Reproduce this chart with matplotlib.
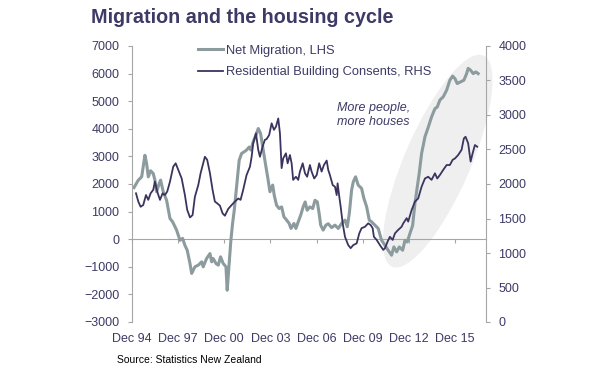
import matplotlib
matplotlib.use('Agg')
import matplotlib.pyplot as plt
from matplotlib.patches import Ellipse
from matplotlib.transforms import ScaledTranslation

plt.rcParams['font.family'] = ['Liberation Sans', 'DejaVu Sans']

# Net migration (LHS), monthly
mig_year = [1995.05, 1995.33, 1995.55, 1995.76, 1995.87, 1995.98, 1996.13, 1996.30, 1996.41, 1996.52,
            1996.69, 1996.78, 1996.95, 1997.17, 1997.39, 1997.56, 1997.82, 1998.04, 1998.21, 1998.36,
            1998.51, 1998.69, 1998.80, 1999.01, 1999.23, 1999.45, 1999.55, 1999.77, 1999.99, 2000.10,
            2000.20, 2000.38, 2000.53, 2000.68, 2000.85, 2001.03, 2001.11, 2001.24, 2001.35, 2001.46,
            2001.57, 2001.68, 2001.79, 2001.89, 2002.05, 2002.20, 2002.37, 2002.54, 2002.65, 2002.80,
            2002.98, 2003.13, 2003.28, 2003.45, 2003.63, 2003.74, 2003.89, 2004.07, 2004.17, 2004.32,
            2004.49, 2004.65, 2004.80, 2004.98, 2005.14, 2005.26, 2005.45, 2005.58, 2005.73, 2005.89,
            2006.05, 2006.18, 2006.31, 2006.49, 2006.67, 2006.82, 2006.97, 2007.09, 2007.19, 2007.35,
            2007.53, 2007.68, 2007.90, 2008.12, 2008.33, 2008.55, 2008.77, 2008.92, 2009.05, 2009.20,
            2009.31, 2009.46, 2009.63, 2009.85, 2010.00, 2010.18, 2010.35, 2010.50, 2010.72, 2010.93,
            2011.15, 2011.37, 2011.58, 2011.80, 2011.95, 2012.13, 2012.30, 2012.52, 2012.67, 2012.82,
            2012.99, 2013.17, 2013.32, 2013.47, 2013.60, 2013.75, 2013.97, 2014.18, 2014.40, 2014.62,
            2014.77, 2014.94, 2015.16, 2015.38, 2015.59, 2015.77, 2015.92, 2016.07, 2016.29, 2016.50,
            2016.68, 2016.78, 2016.94, 2017.11, 2017.28, 2017.43]
mig_value = [1870, 2140, 2260, 3040, 2740, 2260, 2480, 2380, 2140, 1720,
             2020, 2140, 1720, 1410, 750, 630, 330, -40, 30, -220,
             -400, -880, -1240, -1000, -940, -820, -1000, -700, -520, -820,
             -700, -880, -940, -640, -880, -1000, -1850, -880, -40, 570,
             1050, 1660, 2260, 2860, 3110, 3160, 3230, 3340, 3230, 3530,
             3770, 4010, 3830, 3230, 2620, 2260, 1720, 1960, 1590, 1230,
             1110, 1170, 810, 690, 570, 390, 570, 390, 630, 870,
             1170, 1350, 1050, 1170, 1110, 1410, 1350, 930, 510, 330,
             510, 560, 420, 510, 390, 570, 690, 450, 930, 1780,
             2080, 2260, 1960, 1840, 1480, 1170, 690, 630, 510, 390,
             -40, -220, -400, -580, -280, -460, -280, -400, -40, -100,
             200, 500, 1300, 1900, 2400, 3100, 3710, 4050, 4430, 4730,
             4790, 5040, 5160, 5400, 5760, 5910, 5820, 5640, 5700, 5760,
             6000, 6190, 6120, 6000, 6060, 6000]

# Residential building consents (RHS)
bc_year = [1995.18, 1995.33, 1995.48, 1995.65, 1995.83, 1995.98, 1996.13, 1996.30, 1996.41, 1996.56,
           1996.74, 1996.91, 1997.06, 1997.21, 1997.39, 1997.60, 1997.76, 1997.93, 1998.15, 1998.36,
           1998.51, 1998.69, 1998.86, 1999.01, 1999.23, 1999.38, 1999.55, 1999.66, 1999.81, 1999.99,
           2000.16, 2000.31, 2000.46, 2000.64, 2000.81, 2000.96, 2001.18, 2001.40, 2001.61, 2001.83,
           2001.98, 2002.15, 2002.37, 2002.59, 2002.70, 2002.80, 2002.98, 2003.13, 2003.24, 2003.41,
           2003.56, 2003.67, 2003.84, 2004.00, 2004.15, 2004.28, 2004.43, 2004.54, 2004.65, 2004.75,
           2004.93, 2005.04, 2005.19, 2005.30, 2005.40, 2005.58, 2005.73, 2005.84, 2006.02, 2006.17,
           2006.31, 2006.49, 2006.60, 2006.77, 2006.93, 2007.09, 2007.25, 2007.40, 2007.58, 2007.68,
           2007.79, 2007.97, 2008.12, 2008.23, 2008.29, 2008.40, 2008.49, 2008.62, 2008.77, 2008.98,
           2009.14, 2009.31, 2009.53, 2009.70, 2009.85, 2010.07, 2010.28, 2010.44, 2010.57, 2010.65,
           2010.83, 2011.04, 2011.26, 2011.37, 2011.54, 2011.69, 2011.87, 2012.02, 2012.23, 2012.45,
           2012.56, 2012.78, 2012.88, 2013.10, 2013.32, 2013.53, 2013.75, 2013.97, 2014.18, 2014.40,
           2014.62, 2014.77, 2014.94, 2015.16, 2015.38, 2015.59, 2015.77, 2015.92, 2016.13, 2016.35,
           2016.50, 2016.61, 2016.78, 2016.94, 2017.07, 2017.22, 2017.37]
bc_value = [1865, 1745, 1670, 1695, 1840, 1770, 1865, 1915, 2035, 1890,
            1770, 1865, 1840, 1890, 2035, 2250, 2300, 2205, 2080, 1840,
            1625, 1515, 1550, 1815, 1985, 2155, 2300, 2395, 2350, 2155,
            1915, 1745, 1720, 1685, 1575, 1540, 1640, 1695, 1745, 1790,
            1770, 1915, 2130, 2250, 2395, 2590, 2735, 2495, 2395, 2540,
            2640, 2650, 2710, 2880, 2785, 2830, 2950, 2735, 2230, 2370,
            2445, 2300, 2420, 2300, 2060, 2105, 2060, 2180, 2300, 2155,
            2105, 2275, 2180, 2080, 2130, 2300, 2180, 2275, 2340, 2205,
            2130, 1985, 1960, 1840, 2010, 1815, 1670, 1430, 1235, 1115,
            1070, 1115, 1140, 1285, 1360, 1380, 1430, 1405, 1360, 1235,
            1190, 1115, 1045, 1070, 1165, 1235, 1190, 1285, 1335, 1380,
            1430, 1505, 1455, 1620, 1745, 1790, 1960, 2080, 2105, 2060,
            2155, 2080, 2130, 2205, 2275, 2275, 2350, 2370, 2420, 2495,
            2660, 2685, 2590, 2325, 2445, 2565, 2540]

tick_years = [1994.92, 1997.92, 2000.92, 2003.92, 2006.92, 2009.92, 2012.92, 2015.92]
tick_labels = ['Dec 94', 'Dec 97', 'Dec 00', 'Dec 03', 'Dec 06', 'Dec 09', 'Dec 12', 'Dec 15']

navy = '#3d3a66'
grey_line = '#8c9b9e'
dark_line = '#3a345f'
spine_col = '#a6a6a6'

fig = plt.figure(figsize=(6, 3.68), dpi=100)
fig.subplots_adjust(left=0.22, right=0.81, bottom=0.125, top=0.875)
ax = fig.add_subplot(111)
ax2 = ax.twinx()

ax.set_xlim(1994.92, 2017.94)
ax.set_ylim(-3000, 7000)
ax2.set_ylim(0, 4000)

# highlight ellipse (size in inches, centred on a data point)
ell = Ellipse((0, 0), width=2.30, height=0.66, angle=66.6,
              transform=fig.dpi_scale_trans + ScaledTranslation(2014.8, 2830, ax.transData),
              facecolor='#efefef', edgecolor='none', zorder=0, clip_on=False)
ax.add_patch(ell)

l1, = ax.plot(mig_year, mig_value, color=grey_line, lw=2.2, zorder=2, label='Net Migration, LHS')
l2, = ax2.plot(bc_year, bc_value, color=dark_line, lw=1.3, zorder=3, label='Residential Building Consents, RHS')

for s in ['top', 'bottom', 'right']:
    ax.spines[s].set_visible(False)
ax.spines['left'].set_color(spine_col)
for s in ['top', 'bottom', 'left']:
    ax2.spines[s].set_visible(False)
ax2.spines['right'].set_color(spine_col)

ax.set_yticks(range(-3000, 7001, 1000))
ax2.set_yticks(range(0, 4001, 500))
ax.tick_params(axis='y', colors=spine_col, labelcolor=navy, labelsize=9, length=3, pad=6)
ax2.tick_params(axis='y', colors=spine_col, labelcolor=navy, labelsize=9, length=3, pad=6)

ax.set_xticks(tick_years)
ax.set_xticklabels(tick_labels)
ax.tick_params(axis='x', length=0, labelcolor=navy, labelsize=9, pad=8)

# category axis crossing at zero
sec = ax.secondary_xaxis(0, transform=ax.transData)
sec.set_xticks(tick_years)
sec.tick_params(axis='x', labelbottom=False, length=3, color=spine_col)
sec.spines['bottom'].set_color(spine_col)

ax.legend(handles=[l1, l2], loc='upper left', bbox_to_anchor=(0.186, 1.004),
          frameon=False, fontsize=9.3, borderpad=0, borderaxespad=0,
          handlelength=1.95, handletextpad=0.25, labelspacing=0.72, labelcolor=navy)

ax.text(0.579, 0.75, 'More people,\nmore houses', transform=ax.transAxes,
        fontsize=9, style='italic', color=navy, va='center', ha='left', linespacing=1.2)

fig.text(91 / 600, 0.9375, 'Migration and the housing cycle', fontsize=14.2,
         fontweight='bold', color=navy, va='baseline', ha='left')
fig.text(117 / 600, 0.022, 'Source: Statistics New Zealand', fontsize=7.5,
         color='black', va='center', ha='left')

fig.savefig('out.png', dpi=100)
